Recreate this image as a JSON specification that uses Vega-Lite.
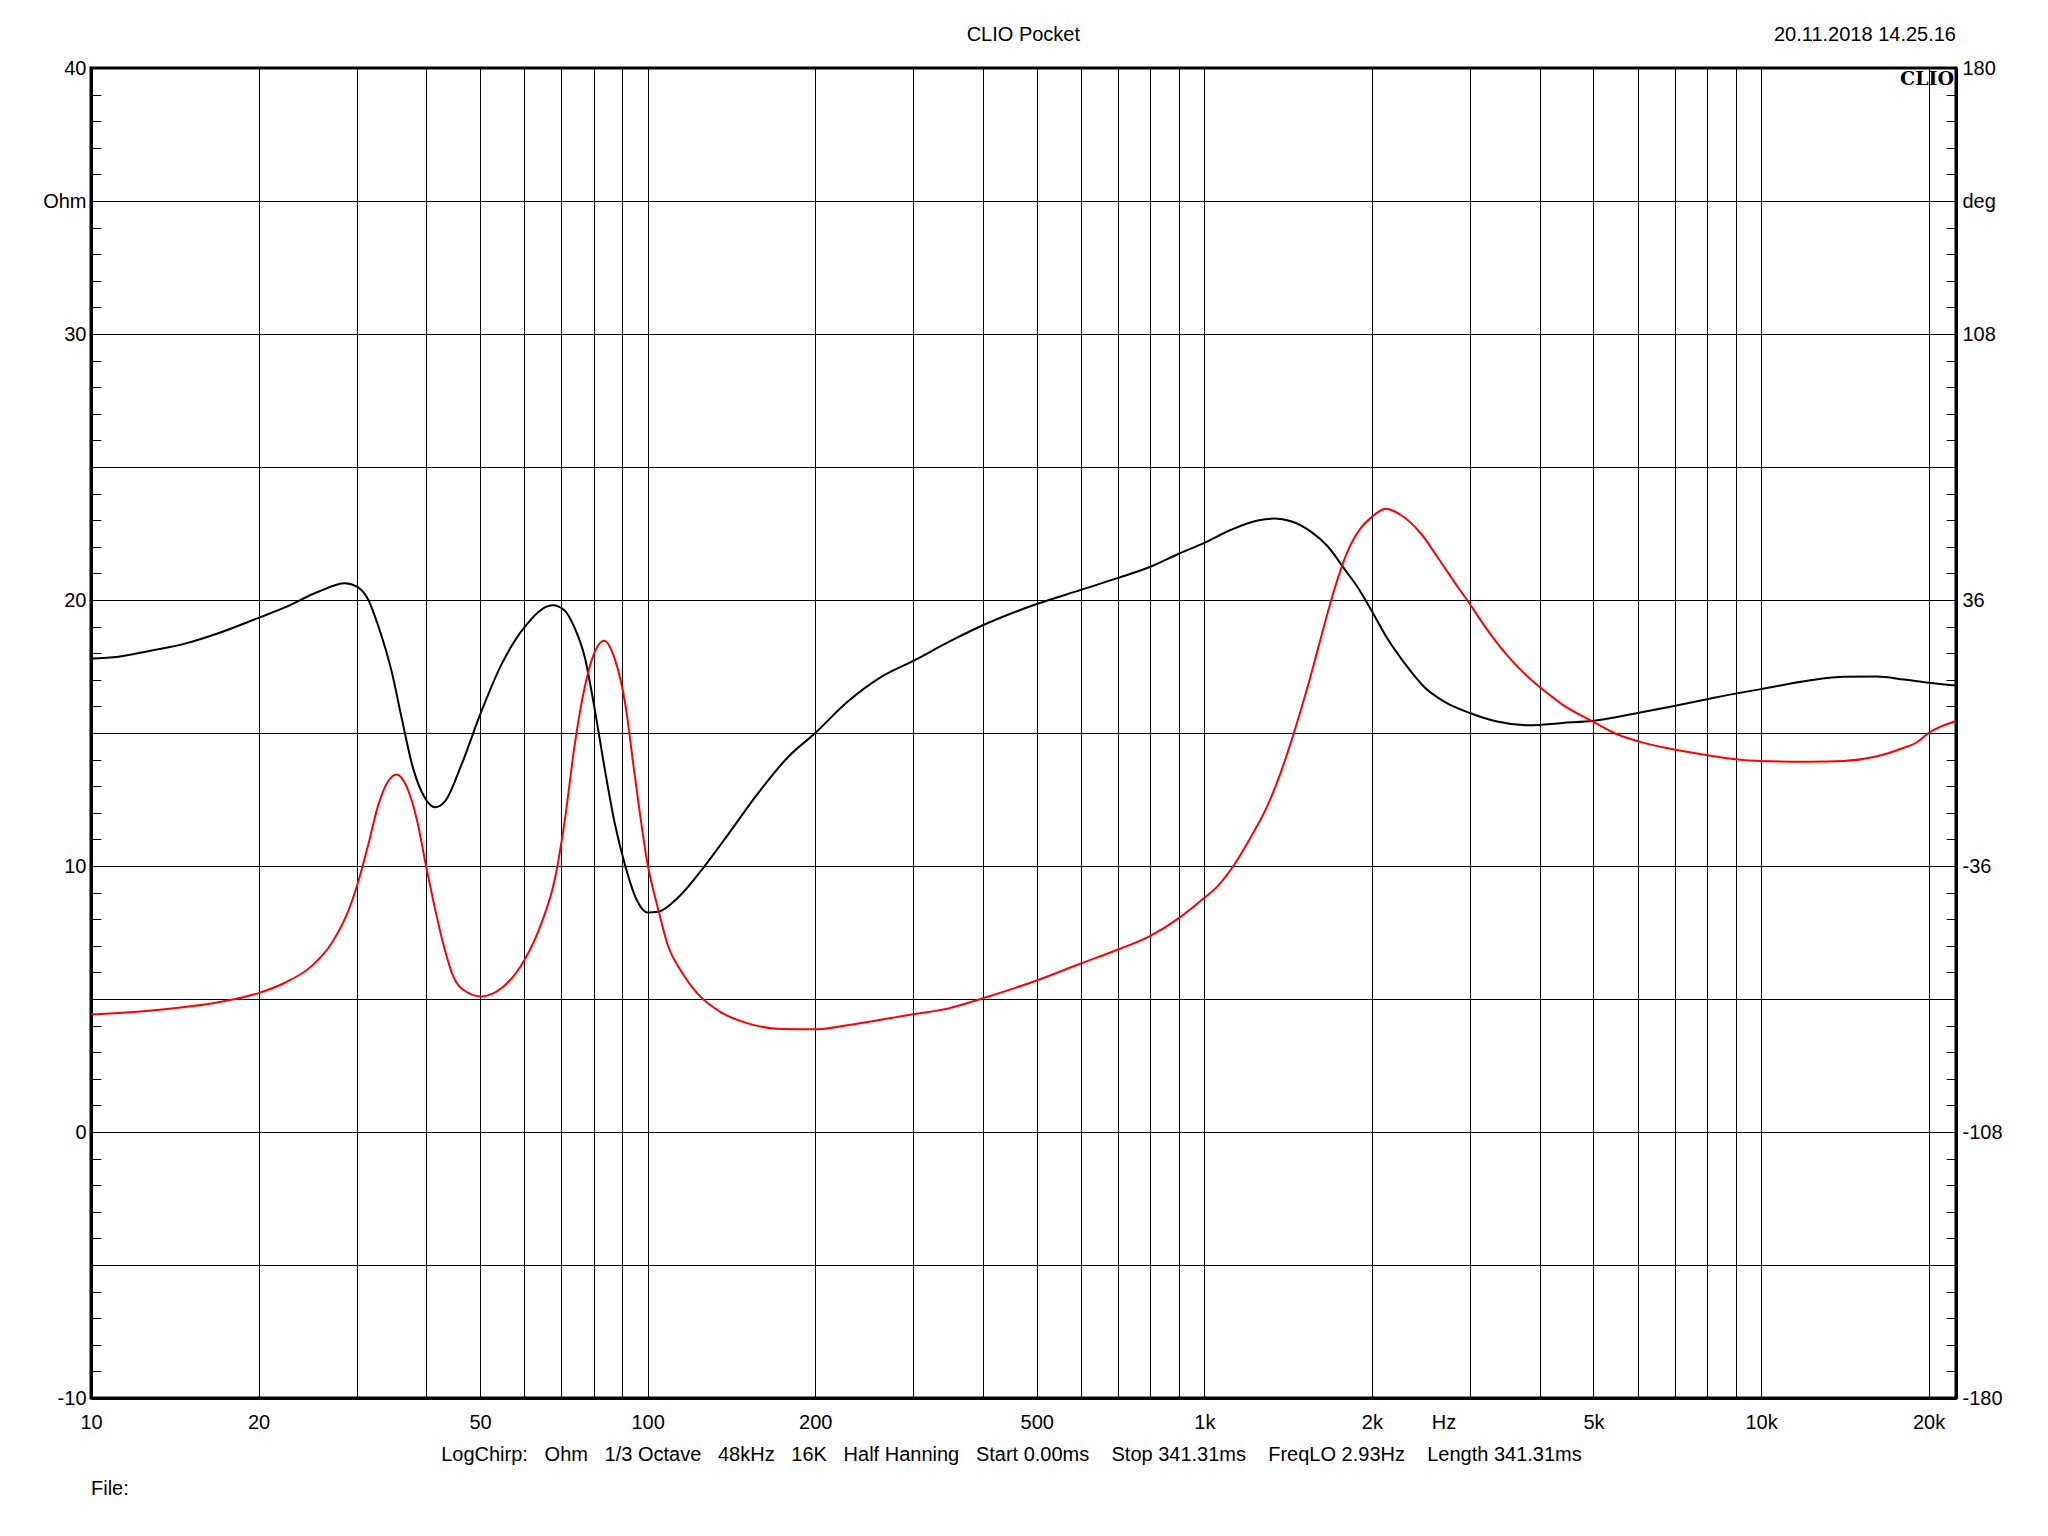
{
  "$schema": "https://vega.github.io/schema/vega-lite/v6.json",
  "width": 1865,
  "height": 1330,
  "autosize": {"type": "none"},
  "padding": {"left": 91, "top": 68, "right": 92, "bottom": 138},
  "background": "white",
  "config": {
    "view": {"stroke": "black", "strokeWidth": 3},
    "font": "Liberation Sans",
    "axis": {"labelFont": "Liberation Sans", "labelFontSize": 20, "labelColor": "black", "domainColor": "black", "domainWidth": 3, "tickColor": "black", "gridColor": "black", "gridWidth": 1}
  },
  "datasets": {
    "imp": [
      {"f": 10, "ohm": 17.8}, {"f": 11.2, "ohm": 17.87}, {"f": 12.85, "ohm": 18.1}, {"f": 14.75, "ohm": 18.36},
      {"f": 16.93, "ohm": 18.75}, {"f": 20, "ohm": 19.33}, {"f": 22.3, "ohm": 19.72}, {"f": 25.6, "ohm": 20.31},
      {"f": 28.6, "ohm": 20.63}, {"f": 30.1, "ohm": 20.49}, {"f": 31.5, "ohm": 20.0}, {"f": 32.8, "ohm": 19.03},
      {"f": 34.7, "ohm": 17.29}, {"f": 36.1, "ohm": 15.62}, {"f": 37.9, "ohm": 13.67}, {"f": 39.8, "ohm": 12.56},
      {"f": 41.5, "ohm": 12.21}, {"f": 43.2, "ohm": 12.42}, {"f": 46.3, "ohm": 13.81}, {"f": 50, "ohm": 15.69},
      {"f": 54.6, "ohm": 17.57}, {"f": 60, "ohm": 18.96}, {"f": 67.5, "ohm": 19.8}, {"f": 71, "ohm": 19.6},
      {"f": 73.9, "ohm": 18.96}, {"f": 77.1, "ohm": 17.85}, {"f": 80.1, "ohm": 16.04}, {"f": 83.7, "ohm": 13.67},
      {"f": 87.3, "ohm": 11.59}, {"f": 91, "ohm": 10.06}, {"f": 95.5, "ohm": 8.74}, {"f": 100, "ohm": 8.25},
      {"f": 104.4, "ohm": 8.28}, {"f": 113.3, "ohm": 8.81}, {"f": 126.5, "ohm": 9.99}, {"f": 139.3, "ohm": 11.17},
      {"f": 155.6, "ohm": 12.56}, {"f": 178.6, "ohm": 14.09}, {"f": 200, "ohm": 15.0}, {"f": 228.8, "ohm": 16.18},
      {"f": 262.8, "ohm": 17.11}, {"f": 300, "ohm": 17.71}, {"f": 350.8, "ohm": 18.47}, {"f": 400, "ohm": 19.05},
      {"f": 495.5, "ohm": 19.82}, {"f": 600, "ohm": 20.38}, {"f": 700, "ohm": 20.83}, {"f": 800, "ohm": 21.25},
      {"f": 900, "ohm": 21.74}, {"f": 1000, "ohm": 22.15}, {"f": 1117, "ohm": 22.64}, {"f": 1247, "ohm": 22.99},
      {"f": 1336, "ohm": 23.06}, {"f": 1431, "ohm": 22.96}, {"f": 1554, "ohm": 22.57}, {"f": 1665, "ohm": 22.02},
      {"f": 1783, "ohm": 21.18}, {"f": 1884, "ohm": 20.49}, {"f": 2000, "ohm": 19.58}, {"f": 2133, "ohm": 18.54},
      {"f": 2286, "ohm": 17.64}, {"f": 2483, "ohm": 16.73}, {"f": 2697, "ohm": 16.18}, {"f": 3000, "ohm": 15.75},
      {"f": 3339, "ohm": 15.44}, {"f": 3833, "ohm": 15.29}, {"f": 4398, "ohm": 15.38},
      {"f": 5000, "ohm": 15.46}, {"f": 6000, "ohm": 15.75}, {"f": 6836, "ohm": 15.98}, {"f": 8000, "ohm": 16.27},
      {"f": 9000, "ohm": 16.48}, {"f": 10000, "ohm": 16.65}, {"f": 12270, "ohm": 16.98}, {"f": 14090, "ohm": 17.11},
      {"f": 16170, "ohm": 17.12}, {"f": 18060, "ohm": 17.01}, {"f": 20000, "ohm": 16.89}, {"f": 22370, "ohm": 16.79}
    ],
    "phase": [
      {"f": 10, "deg": -76.2}, {"f": 12.85, "deg": -75.1}, {"f": 16.93, "deg": -72.9}, {"f": 20, "deg": -70.4},
      {"f": 22.3, "deg": -67.6}, {"f": 24.9, "deg": -63.1}, {"f": 27.0, "deg": -57.1}, {"f": 29.0, "deg": -48.1},
      {"f": 30.1, "deg": -41.0}, {"f": 31.5, "deg": -30.1}, {"f": 32.8, "deg": -19.6}, {"f": 34.2, "deg": -13.0},
      {"f": 35.4, "deg": -11.2}, {"f": 36.9, "deg": -14.5}, {"f": 38.5, "deg": -23.5}, {"f": 40, "deg": -36.1},
      {"f": 41.5, "deg": -47.6}, {"f": 43.2, "deg": -58.6}, {"f": 44.8, "deg": -66.1}, {"f": 47.3, "deg": -70.1},
      {"f": 50.2, "deg": -71.3}, {"f": 54.6, "deg": -69.1}, {"f": 60, "deg": -61.6}, {"f": 64.4, "deg": -51.6},
      {"f": 68.1, "deg": -39.6}, {"f": 71, "deg": -23.5}, {"f": 73.9, "deg": -3.5}, {"f": 77.1, "deg": 12.5},
      {"f": 80.1, "deg": 21.5}, {"f": 83.5, "deg": 25.0}, {"f": 87.3, "deg": 20.0}, {"f": 91, "deg": 8.5},
      {"f": 94.8, "deg": -11.5}, {"f": 100, "deg": -35.6}, {"f": 104.4, "deg": -47.6}, {"f": 108.8, "deg": -57.6},
      {"f": 115, "deg": -64.6}, {"f": 123, "deg": -70.6}, {"f": 135.5, "deg": -75.6}, {"f": 151.3, "deg": -78.6},
      {"f": 173.8, "deg": -80.1}, {"f": 200, "deg": -80.2}, {"f": 228.8, "deg": -79.1}, {"f": 300, "deg": -76.1},
      {"f": 346, "deg": -74.6}, {"f": 400, "deg": -71.8}, {"f": 495.5, "deg": -67.2}, {"f": 600, "deg": -62.4},
      {"f": 700, "deg": -58.6}, {"f": 800, "deg": -54.9}, {"f": 900, "deg": -50.1}, {"f": 1000, "deg": -44.6},
      {"f": 1056, "deg": -41.5}, {"f": 1132, "deg": -35.6}, {"f": 1213, "deg": -28.1}, {"f": 1299, "deg": -19.6},
      {"f": 1373, "deg": -10.5}, {"f": 1451, "deg": 0.4}, {"f": 1533, "deg": 12.5}, {"f": 1598, "deg": 22.5},
      {"f": 1665, "deg": 32.5}, {"f": 1734, "deg": 41.5}, {"f": 1807, "deg": 49.0}, {"f": 1911, "deg": 55.5},
      {"f": 2000, "deg": 58.5}, {"f": 2118, "deg": 60.7}, {"f": 2254, "deg": 59.0}, {"f": 2449, "deg": 54.0},
      {"f": 2642, "deg": 46.9}, {"f": 2851, "deg": 39.6}, {"f": 3000, "deg": 34.9}, {"f": 3159, "deg": 29.8},
      {"f": 3339, "deg": 24.8}, {"f": 3577, "deg": 19.4}, {"f": 3833, "deg": 14.9}, {"f": 4000, "deg": 12.5},
      {"f": 4398, "deg": 7.7}, {"f": 5000, "deg": 3.0}, {"f": 5483, "deg": -0.2}, {"f": 6000, "deg": -2.2},
      {"f": 6836, "deg": -4.2}, {"f": 8000, "deg": -6.0},
      {"f": 9000, "deg": -7.1}, {"f": 10000, "deg": -7.6}, {"f": 12270, "deg": -7.8}, {"f": 14090, "deg": -7.6},
      {"f": 16170, "deg": -6.3}, {"f": 18060, "deg": -4.0}, {"f": 19070, "deg": -2.5}, {"f": 20000, "deg": 0.0},
      {"f": 22370, "deg": 3.2}
    ],
    "header": [{"f": 473, "ohm": 41.24, "label": "CLIO Pocket"}],
    "date": [{"f": 22400, "ohm": 41.24, "label": "20.11.2018 14.25.16"}],
    "logo": [{"f": 22400, "ohm": 39.6, "label": "CLIO"}],
    "footer": [{"f": 450.3, "ohm": -12.14, "label": "LogChirp:\u00a0\u00a0\u00a0Ohm\u00a0\u00a0\u00a01/3 Octave\u00a0\u00a0\u00a048kHz\u00a0\u00a0\u00a016K\u00a0\u00a0\u00a0Half Hanning\u00a0\u00a0\u00a0Start 0.00ms\u00a0\u00a0\u00a0\u00a0Stop 341.31ms\u00a0\u00a0\u00a0\u00a0FreqLO 2.93Hz\u00a0\u00a0\u00a0\u00a0Length 341.31ms"}],
    "file": [{"f": 10, "ohm": -13.42, "label": "File:"}]
  },
  "layer": [
    {
      "layer": [
        {
          "data": {"name": "imp"},
          "mark": {"type": "line", "color": "black", "strokeWidth": 2, "interpolate": "monotone", "clip": true},
          "encoding": {
            "x": {
              "field": "f", "type": "quantitative",
              "scale": {"type": "log", "domain": [10, 22400], "nice": false, "zero": false},
              "axis": {
                "orient": "bottom", "title": null, "tickCount": 1000,
                "values": [10, 20, 30, 40, 50, 60, 70, 80, 90, 100, 200, 300, 400, 500, 600, 700, 800, 900, 1000, 2000, 2690, 3000, 4000, 5000, 6000, 7000, 8000, 9000, 10000, 20000],
                "labelExpr": "indexof([10,20,50,100,200,500], datum.value) >= 0 ? '' + datum.value : (indexof([1000,2000,5000,10000,20000], datum.value) >= 0 ? (datum.value/1000) + 'k' : (datum.value == 2690 ? 'Hz' : ''))",
                "grid": true,
                "gridOpacity": {"condition": {"test": "datum.value == 2690", "value": 0}, "value": 1},
                "ticks": false, "labelPadding": 14, "labelFlush": false, "labelOverlap": false, "labelBound": false,
                "domain": true
              }
            },
            "y": {
              "field": "ohm", "type": "quantitative",
              "scale": {"domain": [-10, 40], "nice": false, "zero": false},
              "axis": {
                "orient": "left", "title": null, "tickCount": 1000,
                "values": [-10,-9,-8,-7,-6,-5,-4,-3,-2,-1,0,1,2,3,4,5,6,7,8,9,10,11,12,13,14,15,16,17,18,19,20,21,22,23,24,25,26,27,28,29,30,31,32,33,34,35,36,37,38,39,40],
                "labelExpr": "datum.value == 35 ? 'Ohm' : (datum.value % 10 == 0 ? '' + datum.value : '')",
                "grid": true,
                "gridOpacity": {"condition": {"test": "datum.value % 5 == 0", "value": 1}, "value": 0},
                "ticks": true, "tickSize": -10, "tickWidth": 1, "labelPadding": 15,
                "labelFlush": false, "labelOverlap": false, "labelBound": false, "domain": true
              }
            }
          }
        },
        {
          "data": {"name": "header"},
          "mark": {"type": "text", "align": "center", "baseline": "middle", "font": "Liberation Sans", "fontSize": 20, "color": "black"},
          "encoding": {"x": {"field": "f", "type": "quantitative"}, "y": {"field": "ohm", "type": "quantitative"}, "text": {"field": "label"}}
        },
        {
          "data": {"name": "date"},
          "mark": {"type": "text", "align": "right", "baseline": "middle", "font": "Liberation Sans", "fontSize": 20, "color": "black"},
          "encoding": {"x": {"field": "f", "type": "quantitative"}, "y": {"field": "ohm", "type": "quantitative"}, "text": {"field": "label"}}
        },
        {
          "data": {"name": "logo"},
          "mark": {"type": "text", "align": "right", "baseline": "middle", "font": "DejaVu Serif", "fontWeight": "bold", "fontSize": 19, "dx": -2, "color": "black"},
          "encoding": {"x": {"field": "f", "type": "quantitative"}, "y": {"field": "ohm", "type": "quantitative"}, "text": {"field": "label"}}
        },
        {
          "data": {"name": "footer"},
          "mark": {"type": "text", "align": "center", "baseline": "middle", "font": "Liberation Sans", "fontSize": 20, "color": "black"},
          "encoding": {"x": {"field": "f", "type": "quantitative"}, "y": {"field": "ohm", "type": "quantitative"}, "text": {"field": "label"}}
        },
        {
          "data": {"name": "file"},
          "mark": {"type": "text", "align": "left", "baseline": "middle", "font": "Liberation Sans", "fontSize": 20, "color": "black"},
          "encoding": {"x": {"field": "f", "type": "quantitative"}, "y": {"field": "ohm", "type": "quantitative"}, "text": {"field": "label"}}
        }
      ]
    },
    {
      "data": {"name": "phase"},
      "mark": {"type": "line", "color": "#ff0000", "strokeWidth": 2, "interpolate": "monotone", "clip": true},
      "encoding": {
        "x": {"field": "f", "type": "quantitative"},
        "y": {
          "field": "deg", "type": "quantitative",
          "scale": {"domain": [-180, 180], "nice": false, "zero": false},
          "axis": {
            "orient": "right", "title": null, "tickCount": 1000,
            "values": [-180,-172.8,-165.6,-158.4,-151.2,-144,-136.8,-129.6,-122.4,-115.2,-108,-100.8,-93.6,-86.4,-79.2,-72,-64.8,-57.6,-50.4,-43.2,-36,-28.8,-21.6,-14.4,-7.2,0,7.2,14.4,21.6,28.8,36,43.2,50.4,57.6,64.8,72,79.2,86.4,93.6,100.8,108,115.2,122.4,129.6,136.8,144,151.2,158.4,165.6,172.8,180],
            "labelExpr": "datum.value == 144 ? 'deg' : (indexof([-180,-108,-36,36,108,180], datum.value) >= 0 ? '' + datum.value : '')",
            "grid": false,
            "ticks": true, "tickSize": -10, "tickWidth": 1, "labelPadding": 16,
            "labelFlush": false, "labelOverlap": false, "labelBound": false, "domain": true
          }
        }
      }
    }
  ],
  "resolve": {"scale": {"y": "independent"}, "axis": {"y": "independent"}}
}
